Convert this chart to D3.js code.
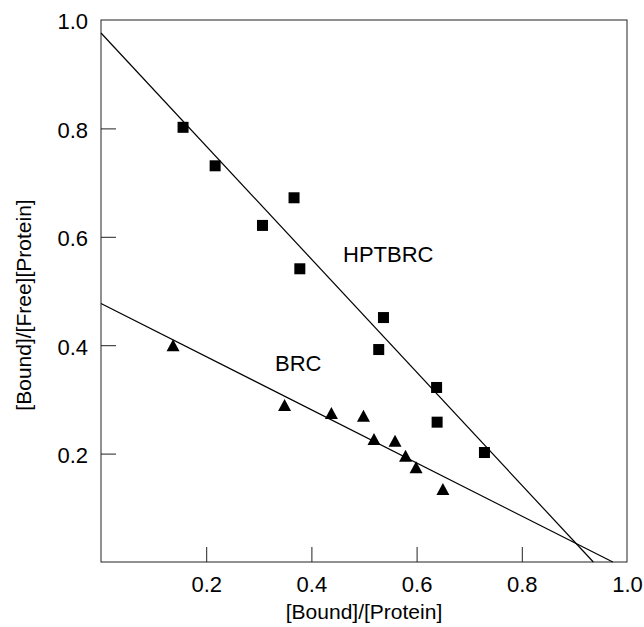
<!DOCTYPE html>
<html>
<head>
<meta charset="utf-8">
<script src="https://d3js.org/d3.v7.min.js"></script>
<style>
  body { margin: 0; background: #fff; }
  text { font-family: "Liberation Sans", Arial, sans-serif; fill: #000; }
</style>
</head>
<body>
<script>
// HPTBRC (squares)
const hptX = [0.156, 0.217, 0.367, 0.307, 0.378, 0.537, 0.528, 0.638, 0.639, 0.729];
const hptY = [0.802, 0.731, 0.672, 0.621, 0.541, 0.451, 0.392, 0.322, 0.258, 0.202];
// BRC (triangles)
const brcX = [0.137, 0.349, 0.438, 0.499, 0.519, 0.559, 0.579, 0.599, 0.650];
const brcY = [0.398, 0.288, 0.273, 0.268, 0.225, 0.222, 0.194, 0.173, 0.133];
// fitted lines: y-intercept and x-intercept
const lineNames = ["HPTBRC", "BRC"];
const lineYint = [0.976, 0.477];
const lineXint = [0.936, 0.973];
const xTicks = [0.2, 0.4, 0.6, 0.8, 1.0];
const yTicks = [0.2, 0.4, 0.6, 0.8, 1.0];

const width = 644, height = 627;
const mLeft = 101, mRight = 627, mTop = 20, mBottom = 562;

const svg = d3.select("body").append("svg")
    .attr("width", width)
    .attr("height", height);

const x = d3.scaleLinear().domain([0, 1]).range([mLeft, mRight]);
const y = d3.scaleLinear().domain([0, 1]).range([mBottom, mTop]);

// frame
svg.append("rect")
    .attr("x", mLeft).attr("y", mTop)
    .attr("width", mRight - mLeft).attr("height", mBottom - mTop)
    .attr("fill", "none")
    .attr("stroke", "#222")
    .attr("stroke-width", 1);

// bottom axis, ticks pointing inward
const xAxis = svg.append("g")
    .attr("transform", "translate(0," + mBottom + ")")
    .call(d3.axisBottom(x).tickValues(xTicks).tickSize(0).tickPadding(0).tickFormat(d3.format(".1f")));
xAxis.select(".domain").remove();
xAxis.selectAll("text")
    .attr("y", 30)
    .attr("dy", 0)
    .style("font-size", "22px");
xAxis.selectAll(".tick")
    .filter(d => d < 1)
    .append("line")
    .attr("y1", 0).attr("y2", -15)
    .attr("stroke", "#222");

// left axis
const yAxis = svg.append("g")
    .attr("transform", "translate(" + mLeft + ",0)")
    .call(d3.axisLeft(y).tickValues(yTicks).tickSize(0).tickPadding(13).tickFormat(d3.format(".1f")));
yAxis.select(".domain").remove();
yAxis.selectAll("text")
    .attr("dy", "0.4em")
    .style("font-size", "22px");
yAxis.selectAll(".tick")
    .filter(d => d < 1)
    .append("line")
    .attr("x1", 0).attr("x2", 15)
    .attr("stroke", "#222");

// axis titles
svg.append("text")
    .attr("x", (mLeft + mRight) / 2)
    .attr("y", 619)
    .attr("text-anchor", "middle")
    .style("font-size", "21px")
    .text("[Bound]/[Protein]");

svg.append("text")
    .attr("transform", "translate(31,305) rotate(-90)")
    .attr("text-anchor", "middle")
    .style("font-size", "21px")
    .text("[Bound]/[Free][Protein]");

// regression lines
const plot = svg.append("g");
for (let i = 0; i < lineNames.length; i++) {
    plot.append("line")
        .attr("x1", x(0)).attr("y1", y(lineYint[i]))
        .attr("x2", x(lineXint[i])).attr("y2", y(0))
        .attr("stroke", "#000")
        .attr("stroke-width", 1.2);
}

// squares
const sq = 11;
plot.selectAll(".sq")
    .data(d3.range(hptX.length))
    .join("rect")
    .attr("class", "sq")
    .attr("x", i => x(hptX[i]) - sq / 2)
    .attr("y", i => y(hptY[i]) - sq / 2)
    .attr("width", sq).attr("height", sq)
    .attr("fill", "#000");

// triangles
plot.selectAll(".tri")
    .data(d3.range(brcX.length))
    .join("path")
    .attr("class", "tri")
    .attr("transform", i => "translate(" + x(brcX[i]) + "," + y(brcY[i]) + ")")
    .attr("d", "M0,-7L6.5,5L-6.5,5Z")
    .attr("fill", "#000");

// series labels
svg.append("text")
    .attr("x", 343).attr("y", 262)
    .style("font-size", "22px")
    .text("HPTBRC");

svg.append("text")
    .attr("x", 275).attr("y", 371)
    .style("font-size", "22px")
    .text("BRC");
</script>
</body>
</html>
